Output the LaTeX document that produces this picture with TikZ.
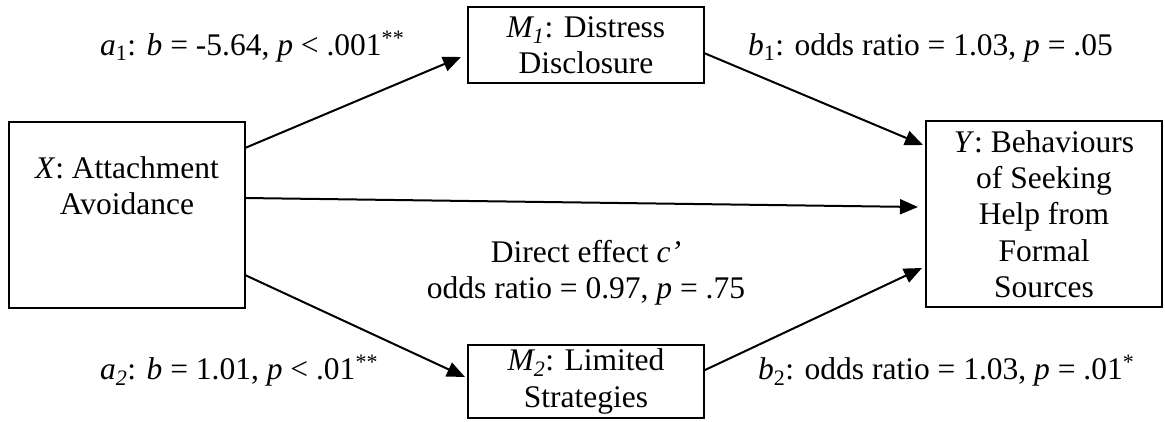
\documentclass[tikz,border=0pt]{standalone}
\usepackage{fontspec}
\setmainfont{Liberation Serif}
\usetikzlibrary{arrows.meta}
\begin{document}
\begin{tikzpicture}[x=1pt,y=-1pt,
  box/.style={draw, line width=1.8pt, minimum width=236pt, inner sep=0pt, align=center},
  conn/.style={line width=2pt, -{Triangle[length=18pt,width=15pt]}},
  lbl/.style={inner sep=0pt},
  font=\fontsize{31.5}{36.3}\selectfont]
\useasboundingbox (0,0) rectangle (1165,421);
% boxes
\node[box, minimum height=186pt] (X) at (127,215) {};
\node[lbl, align=center] (Xt) at (127,186) {\textit{X}: Attachment\\Avoidance};
\node[box, minimum height=76pt] (M1) at (586,45) {\textit{M\textsubscript{1}}: Distress\\Disclosure};
\node[box, minimum height=73pt] (M2) at (586,381.5) {\textit{M\textsubscript{2}}: Limited\\Strategies};
\node[box, minimum height=186pt] (Y) at (1044,214) {\textit{Y}: Behaviours\\of Seeking\\Help from\\Formal\\Sources};
% connectors
\coordinate (a1s) at (245,148);
\coordinate (a1e) at (461,57);
\coordinate (b1s) at (704,53);
\coordinate (b1e) at (923,145);
\coordinate (cs) at (245,198);
\coordinate (ce) at (918,207);
\coordinate (a2s) at (245,275);
\coordinate (a2e) at (465,377);
\coordinate (b2s) at (705,370);
\coordinate (b2e) at (922,268);
\draw[conn] (a1s) -- (a1e);
\draw[conn] (b1s) -- (b1e);
\draw[conn] (cs) -- (ce);
\draw[conn] (a2s) -- (a2e);
\draw[conn] (b2s) -- (b2e);
% labels
\node[lbl, anchor=base west] (la1) at (100,55) {\textit{a}\textsubscript{1}: \textit{b} = -5.64, \textit{p} < .001\textsuperscript{**}};
\node[lbl, anchor=base west] (lb1) at (748,55) {\textit{b}\textsubscript{1}: odds ratio = 1.03, \textit{p} = .05};
\node[lbl, align=center] (lc) at (586,273) {Direct effect \textit{c'}\\odds ratio = 0.97, \textit{p} = .75};
\node[lbl, anchor=base west] (la2) at (100,379) {\textit{a\textsubscript{2}}: \textit{b} = 1.01, \textit{p} < .01\textsuperscript{**}};
\node[lbl, anchor=base west] (lb2) at (758,379) {\textit{b}\textsubscript{2}: odds ratio = 1.03, \textit{p} = .01\textsuperscript{*}};
\end{tikzpicture}
\end{document}
